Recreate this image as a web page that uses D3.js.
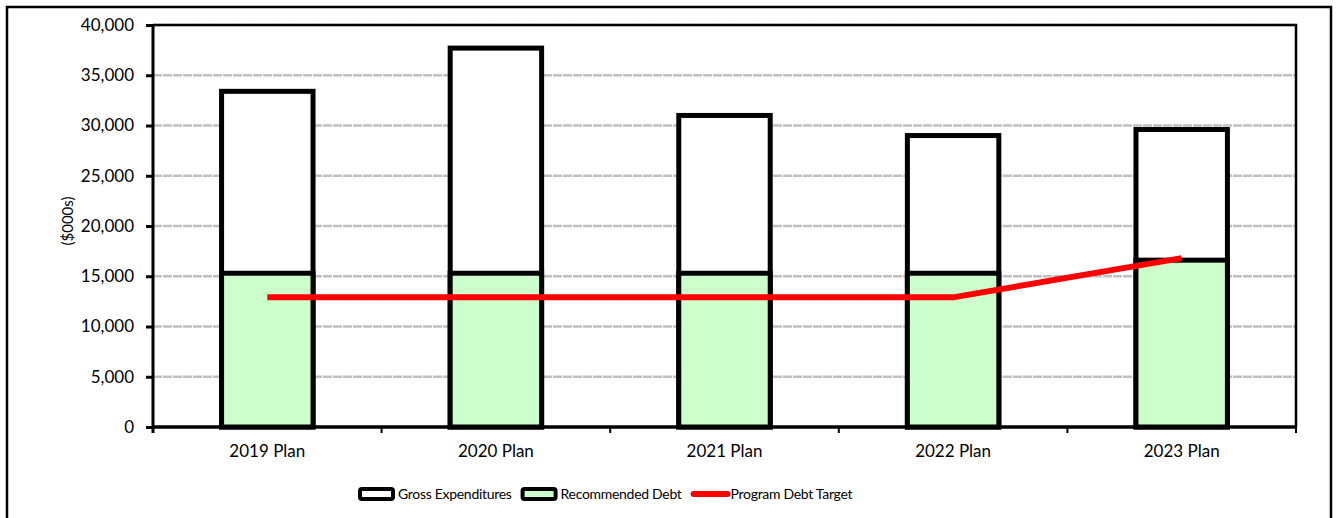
<!DOCTYPE html>
<html>
<head>
<meta charset="utf-8">
<script src="https://cdn.jsdelivr.net/npm/d3@7"></script>
<style>
  html, body { margin: 0; padding: 0; background: #fff; }
  svg { display: block; font-family: Lato, "Liberation Sans", sans-serif; }
</style>
</head>
<body>
<svg id="chart" width="1336" height="518"></svg>
<script>
// Capital plan summary, in thousands of dollars
const categories = ["2019 Plan", "2020 Plan", "2021 Plan", "2022 Plan", "2023 Plan"];
const grossExpenditures = [33400, 37700, 31000, 29000, 29600];
const recommendedDebt = [15300, 15300, 15300, 15300, 16600];
const debtTarget = [12900, 12900, 12900, 12900, 16800];
const yTicks = [0, 5000, 10000, 15000, 20000, 25000, 30000, 35000, 40000];
const legendItems = [
  { label: "Gross Expenditures", type: "bar", fill: "#ffffff" },
  { label: "Recommended Debt", type: "bar", fill: "#ccffcc" },
  { label: "Program Debt Target", type: "line", stroke: "#ff0000" }
];

const svg = d3.select("#chart");
const margin = { left: 153, right: 1296, top: 25, bottom: 427 };

// outer frame
svg.append("path")
  .attr("d", "M7,518 V7 H1331 V518")
  .attr("fill", "none").attr("stroke", "#000").attr("stroke-width", 2.5);

const x = d3.scaleBand().domain(categories).range([margin.left, margin.right]).paddingInner(0.6).paddingOuter(0.3);
const xBand = d3.scaleBand().domain(categories).range([margin.left, margin.right]);
const y = d3.scaleLinear().domain([0, 40000]).range([margin.bottom, margin.top]);

// horizontal gridlines
svg.append("g").selectAll("line").data(yTicks.filter(t => t > 0)).join("line")
  .attr("x1", margin.left).attr("x2", margin.right)
  .attr("y1", d => y(d)).attr("y2", d => y(d))
  .attr("stroke", "#c0c0c0").attr("stroke-width", 2.5).attr("stroke-dasharray", "9,1");

// plot area border (top/right)
svg.append("path")
  .attr("d", `M${margin.left},${margin.top} H${margin.right} V${margin.bottom}`)
  .attr("fill", "none").attr("stroke", "#000").attr("stroke-width", 2.5);

// y axis
const yAxis = svg.append("g").attr("transform", `translate(${margin.left},0)`)
  .call(d3.axisLeft(y).tickValues(yTicks).tickSize(7).tickPadding(12).tickFormat(d3.format(",")));
yAxis.selectAll("path, line").attr("stroke", "#000").attr("stroke-width", 3);
yAxis.select(".domain").attr("d", `M0,${margin.top}V${margin.bottom + 6}`);
yAxis.selectAll("text").attr("font-size", 17).attr("fill", "#000").attr("font-family", "Lato, sans-serif");

// x axis with ticks at category boundaries
const xAxisG = svg.append("g").attr("transform", `translate(0,${margin.bottom})`);
xAxisG.append("line").attr("x1", margin.left).attr("x2", margin.right)
  .attr("stroke", "#000").attr("stroke-width", 3);
xAxisG.selectAll("line.tick").data(categories.slice(1).concat([null])).join("line")
  .attr("class", "tick")
  .attr("x1", (d, i) => i < categories.length - 1 ? xBand(d) : margin.right)
  .attr("x2", (d, i) => i < categories.length - 1 ? xBand(d) : margin.right)
  .attr("y1", 0).attr("y2", 6).attr("stroke", "#000").attr("stroke-width", 2);
xAxisG.selectAll("text").data(categories).join("text")
  .attr("x", d => xBand(d) + xBand.bandwidth() / 2)
  .attr("y", 30).attr("text-anchor", "middle")
  .attr("font-size", 17).attr("fill", "#000").text(d => d);

// y axis title
svg.append("text")
  .attr("transform", "translate(73,221) rotate(-90)")
  .attr("text-anchor", "middle").attr("font-size", 15).attr("fill", "#000")
  .text("($000s)");

// gross expenditure bars
svg.append("g").selectAll("rect").data(categories).join("rect")
  .attr("x", d => x(d)).attr("width", x.bandwidth())
  .attr("y", (d, i) => y(grossExpenditures[i]))
  .attr("height", (d, i) => y(0) - y(grossExpenditures[i]))
  .attr("fill", "#ffffff").attr("stroke", "#000").attr("stroke-width", 5);

// recommended debt bars
svg.append("g").selectAll("rect").data(categories).join("rect")
  .attr("x", d => x(d)).attr("width", x.bandwidth())
  .attr("y", (d, i) => y(recommendedDebt[i]))
  .attr("height", (d, i) => y(0) - y(recommendedDebt[i]))
  .attr("fill", "#ccffcc").attr("stroke", "#000").attr("stroke-width", 5);

// redraw baseline on top of bars
svg.append("line").attr("x1", margin.left).attr("x2", margin.right)
  .attr("y1", margin.bottom).attr("y2", margin.bottom)
  .attr("stroke", "#000").attr("stroke-width", 3);

// program debt target line
const line = d3.line()
  .x((d, i) => xBand(categories[i]) + xBand.bandwidth() / 2)
  .y(d => y(d));
svg.append("path").datum(debtTarget)
  .attr("d", line).attr("fill", "none")
  .attr("stroke", "#ff0000").attr("stroke-width", 6).attr("stroke-linejoin", "round");

// legend: 37px swatch, label 3px after it, next item 9px after label
const legend = svg.append("g").attr("transform", "translate(358,494)");
let lx = 0;
legendItems.forEach(item => {
  const g = legend.append("g").attr("transform", `translate(${lx},0)`);
  if (item.type === "bar") {
    g.append("rect").attr("x", 2).attr("y", -5).attr("width", 33).attr("height", 10).attr("rx", 2)
      .attr("fill", item.fill).attr("stroke", "#000").attr("stroke-width", 4);
  } else {
    g.append("line").attr("x1", 3).attr("x2", 37).attr("y1", 0).attr("y2", 0)
      .attr("stroke", item.stroke).attr("stroke-width", 6).attr("stroke-linecap", "round");
  }
  const t = g.append("text").attr("x", 40).attr("y", 5).attr("font-size", 14).attr("fill", "#000")
    .attr("letter-spacing", -0.3).text(item.label);
  lx += 40 + t.node().getComputedTextLength() + 9;
});
</script>
</body>
</html>
